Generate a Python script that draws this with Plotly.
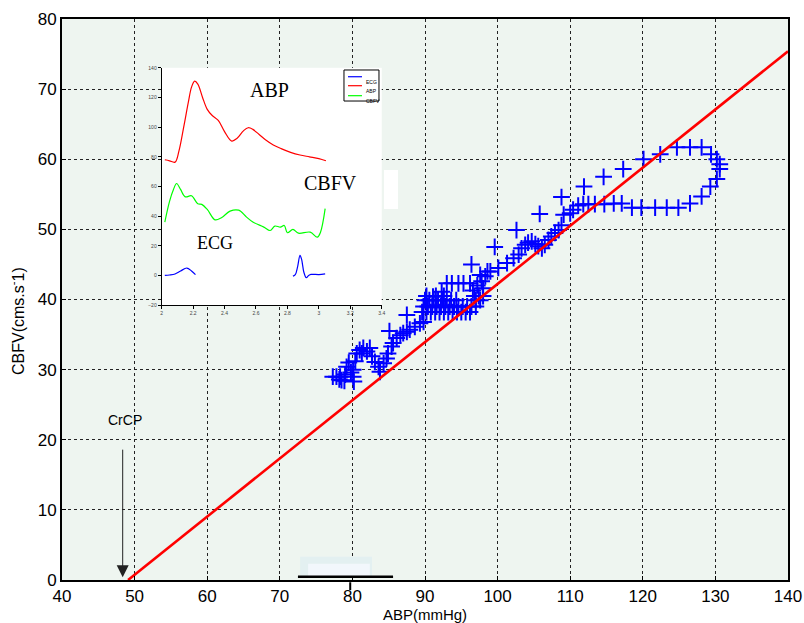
import plotly.graph_objects as go

# ---------------- main scatter data (ABP vs CBFV) ----------------
abp_pts = [
    77.3, 77.8, 78.3, 78.5, 78.9, 78.2, 79.0, 79.2, 79.5, 79.8, 80.1, 80.1, 80.2, 80.4,
    80.6, 81.0, 81.3, 81.5, 82.0, 82.4, 82.7, 83.1, 83.6, 83.8, 84.3, 84.7, 84.9, 85.4,
    85.6, 86.1, 85.1, 86.6, 87.0, 87.5, 87.9, 88.6, 89.3, 89.8, 87.5,
    89.6, 90.2, 90.8, 91.4, 92.0, 92.6, 93.2, 93.8, 94.4, 95.0, 95.6, 96.2,
    89.8, 90.4, 91.0, 91.6, 92.2, 92.8, 93.4, 94.0, 94.6, 95.2, 95.8, 96.4, 97.0,
    90.0, 90.6, 91.2, 91.8, 92.4, 93.0, 93.6, 94.3, 97.0, 97.6,
    90.2, 91.5, 92.6, 96.8, 97.4, 98.0,
    91.1, 92.3, 93.0, 93.7, 94.6, 95.3, 96.2, 96.6, 97.2, 97.8, 98.3, 98.6, 97.6, 98.0, 99.0,
    96.4, 99.6, 100.1, 101.3, 102.2, 102.9, 103.3, 103.8, 104.2, 104.7, 105.2, 105.6,
    106.1, 106.5, 107.0, 107.4, 107.9, 108.4, 108.8, 109.1, 110.0, 110.4, 111.1,
    111.8, 112.5, 113.4, 114.7, 116.0, 117.1, 118.5, 119.8, 121.7, 123.3, 124.9,
    126.5, 128.1, 129.3, 130.2, 130.6, 130.6, 130.2, 129.4, 128.1, 126.5, 124.7,
    122.4, 120.1, 117.3, 114.6, 111.9, 108.8, 105.8, 102.6,
]
cbfv_pts = [
    29.0, 29.0, 29.0, 28.5, 28.4, 28.6, 29.3, 30.4, 31.0, 29.6, 30.0, 29.0, 28.3, 31.2,
    32.3, 32.8, 32.3, 33.1, 32.6, 33.1, 31.9, 31.1, 30.4, 29.7, 30.9, 31.6, 32.3, 33.3,
    33.8, 34.5, 35.5, 34.9, 35.2, 35.4, 35.7, 36.1, 36.6, 36.8, 37.8,
    38.2, 38.2, 38.2, 38.2, 38.2, 38.2, 38.2, 38.2, 38.2, 38.2, 38.2, 38.2,
    39.0, 39.0, 39.0, 39.0, 39.0, 39.0, 39.0, 39.0, 39.0, 39.0, 39.0, 39.0, 39.0,
    39.9, 39.9, 39.9, 39.9, 39.9, 39.9, 39.9, 39.9, 39.9, 39.9,
    40.5, 40.5, 40.5, 40.5, 40.5, 40.5,
    40.4, 41.1, 42.3, 42.3, 42.3, 42.3, 42.3, 41.3, 42.0, 42.6, 43.3, 44.0, 43.5, 41.6, 44.0,
    45.0, 47.5, 44.5, 45.2, 45.9, 46.4, 47.3, 47.8, 48.1, 48.3, 47.9, 47.6,
    47.3, 47.8, 48.5, 49.0, 49.5, 49.9, 50.6, 52.1, 52.3, 52.8, 53.4,
    53.6, 53.6, 53.6, 53.6, 53.7, 53.7, 53.1, 53.1, 53.1, 53.1, 53.1,
    53.7, 54.7, 56.1, 57.2, 58.6, 59.3, 60.0, 60.7, 61.7, 61.7, 61.7,
    60.7, 60.0, 58.6, 57.5, 56.1, 54.6, 52.2, 49.9,
]

# regression line through the critical closing pressure (CrCP)
fit_x = [49.1, 140.0]
fit_y = [0.0, 75.4]
crcp_value = 48.36

# ---------------- inset waveforms ----------------
abp_t = [2.02, 2.05, 2.085, 2.11, 2.14, 2.17, 2.19, 2.21, 2.23, 2.26, 2.29, 2.32, 2.36,
         2.40, 2.446, 2.48, 2.52, 2.55, 2.58, 2.62, 2.66, 2.71, 2.76, 2.82, 2.88, 2.94,
         3.0, 3.045]
abp_wave = [78, 77.3, 76.4, 84, 100, 117, 127, 131, 129, 120, 112, 108, 104.5,
            97, 90.6, 92.5, 97.5, 99.6, 98.5, 95, 91.5, 88, 85.5, 83, 81.2, 80,
            78.8, 77.3]

cbfv_t = [2.02, 2.05, 2.075, 2.095, 2.12, 2.15, 2.19, 2.23, 2.255, 2.29, 2.34, 2.38,
          2.435, 2.49, 2.54, 2.58, 2.65, 2.69, 2.72, 2.755, 2.78, 2.80, 2.835, 2.87,
          2.945, 2.99, 3.01, 3.04]
cbfv_wave = [36, 50, 58, 62, 58, 53, 53.7, 48.3, 47.9, 44.5, 37.5, 38.9,
             43.4, 44, 39.3, 36, 32.6, 30.3, 33.3, 32.6, 33.7, 28.8, 31, 28.5,
             29.2, 25.8, 29, 45]

ecg_t1 = [2.02, 2.05, 2.085, 2.12, 2.16, 2.19, 2.215]
ecg_w1 = [0, 0.3, 1, 3, 5, 3, 0.5]
ecg_t2 = [2.835, 2.85, 2.865, 2.88, 2.89, 2.905, 2.92, 2.935, 2.95, 3.0, 3.04]
ecg_w2 = [-0.5, 0.5, 6, 13.5, 11, 2, -1.5, 0, 0.7, 0.6, 1]

FONT = "Liberation Sans, Arial, sans-serif"
SERIF = "Liberation Serif, Times New Roman, serif"
BLUE = "#0000FF"
RED = "#FF0000"
GREEN = "#00FF00"
PLOT_BG = "#EEF5F0"

fig = go.Figure()

fig.add_trace(go.Scatter(
    x=abp_pts, y=cbfv_pts, mode="markers", showlegend=False,
    marker=dict(symbol="cross-thin", size=12, line=dict(width=2, color=BLUE), color=BLUE),
))
fig.add_trace(go.Scatter(
    x=fit_x, y=fit_y, mode="lines", showlegend=False,
    line=dict(color=RED, width=2.6),
))

# inset traces (axes x3/y3; x2/y2 is the white panel behind the inset)
for tx, ty, col in [(ecg_t1, ecg_w1, BLUE), (ecg_t2, ecg_w2, BLUE),
                    (abp_t, abp_wave, RED), (cbfv_t, cbfv_wave, GREEN)]:
    fig.add_trace(go.Scatter(x=tx, y=ty, mode="lines", xaxis="x3", yaxis="y3",
                             showlegend=False, line=dict(color=col, width=1.2, shape="spline")))

axis_common = dict(
    showgrid=True, gridcolor="#222222", gridwidth=1, griddash="dot",
    showline=True, linecolor="black", linewidth=2, mirror=True,
    ticks="inside", ticklen=4, tickcolor="black", zeroline=False, automargin=False,
    tickfont=dict(family=FONT, size=17, color="black"),
)
hidden_axis = dict(showgrid=False, zeroline=False, showline=False, showticklabels=False,
                   ticks="", range=[0, 1], fixedrange=True, automargin=False)
inset_axis = dict(showgrid=False, zeroline=False, showline=True, linecolor="black", linewidth=1,
                  ticks="outside", ticklen=3, tickcolor="black", automargin=False,
                  tickfont=dict(family=FONT, size=5, color="#444"))

fig.update_layout(
    width=804, height=623,
    margin=dict(l=62, r=16, t=19, b=43),
    paper_bgcolor="white",
    plot_bgcolor="white",
    xaxis=dict(range=[40, 140], dtick=10, tick0=40,
               title=dict(text="ABP(mmHg)", font=dict(family=FONT, size=15, color="black"), standoff=4),
               **axis_common),
    yaxis=dict(range=[0, 80], dtick=10, tick0=0, **axis_common),
    xaxis2=dict(domain=[0.1171, 0.4449], anchor="y2", **hidden_axis),
    yaxis2=dict(domain=[0.4813, 0.9305], anchor="x2", **hidden_axis),
    xaxis3=dict(domain=[0.1373, 0.4404], anchor="y3", range=[2, 3.4], dtick=0.2, tick0=2, **inset_axis),
    yaxis3=dict(domain=[0.490, 0.913], anchor="x3", range=[-20, 140], dtick=20, tick0=-20, **inset_axis),
)

shapes = []
# green plotting background of the main axes (below grid)
shapes.append(dict(type="rect", xref="paper", yref="paper", layer="below",
                   x0=0, x1=1, y0=0, y1=1, fillcolor=PLOT_BG, line=dict(width=0)))
# white box behind the "CBFV" label that protrudes from the inset
shapes.append(dict(type="rect", xref="paper", yref="paper", layer="above",
                   x0=0.4435, x1=0.4628, y0=0.6613, y1=0.7308,
                   fillcolor="white", line=dict(width=0)))
# inset legend box
shapes.append(dict(type="rect", xref="paper", yref="paper", layer="above",
                   x0=0.3884, x1=0.4366, y0=0.8538, y1=0.9091,
                   fillcolor="white", line=dict(color="black", width=1)))
legend_items = [("ECG", BLUE, 0.8971), ("ABP", RED, 0.8811), ("CBFV", GREEN, 0.8633)]
for name, col, yy in legend_items:
    shapes.append(dict(type="line", xref="paper", yref="paper", layer="above",
                       x0=0.3939, x1=0.4132, y0=yy, y1=yy, line=dict(color=col, width=1.2)))

# artefacts near the x axis
shapes.append(dict(type="rect", xref="x", yref="y", layer="above",
                   x0=72.8, x1=82.7, y0=0.3, y1=3.3, fillcolor="#E3F0F1", line=dict(width=0)))
shapes.append(dict(type="rect", xref="x", yref="y", layer="above",
                   x0=73.9, x1=82.4, y0=0.3, y1=2.3, fillcolor="#F2F7FC", line=dict(width=0)))
shapes.append(dict(type="line", xref="x", yref="y", layer="above",
                   x0=72.5, x1=85.6, y0=0.45, y1=0.45, line=dict(color="black", width=2.5)))
shapes.append(dict(type="line", xref="x", yref="paper", layer="above",
                   x0=79.7, x1=79.7, y0=-0.004, y1=-0.018, line=dict(color="black", width=2)))
fig.update_layout(shapes=shapes)

annotations = [
    # y-axis title (placed as in the reference, slightly below the axis centre)
    dict(x=-0.062, y=0.4617, xref="paper", yref="paper", text="CBFV(cms.s<sup>-</sup>1)",
         textangle=-90, showarrow=False, xanchor="center", yanchor="middle",
         font=dict(family=FONT, size=16, color="black")),
    dict(x=2.689, y=125, xref="x3", yref="y3", text="ABP", showarrow=False,
         font=dict(family=SERIF, size=20, color="black")),
    dict(x=3.071, y=62.3, xref="x3", yref="y3", text="CBFV", showarrow=False,
         font=dict(family=SERIF, size=20, color="black")),
    dict(x=2.339, y=21.8, xref="x3", yref="y3", text="ECG", showarrow=False,
         font=dict(family=SERIF, size=18, color="black")),
    dict(x=crcp_value + 0.25, y=22.8, xref="x", yref="y", text="CrCP", showarrow=False,
         font=dict(family=FONT, size=14, color="black")),
    dict(x=crcp_value, y=0.4, xref="x", yref="y", ax=crcp_value, ay=18.8,
         axref="x", ayref="y", text="", showarrow=True, arrowhead=2, arrowsize=2.4,
         arrowwidth=1, arrowcolor="#222222", standoff=0),
]
for name, col, yy in legend_items:
    annotations.append(dict(x=0.4160, y=yy, xref="paper", yref="paper", text=name,
                            showarrow=False, xanchor="left",
                            font=dict(family=FONT, size=5, color="black")))
fig.update_layout(annotations=annotations)

fig.write_html(
    "out.html",
    config={"displayModeBar": False},
    post_script="document.body.style.margin='0';document.documentElement.style.overflow='hidden';",
)
